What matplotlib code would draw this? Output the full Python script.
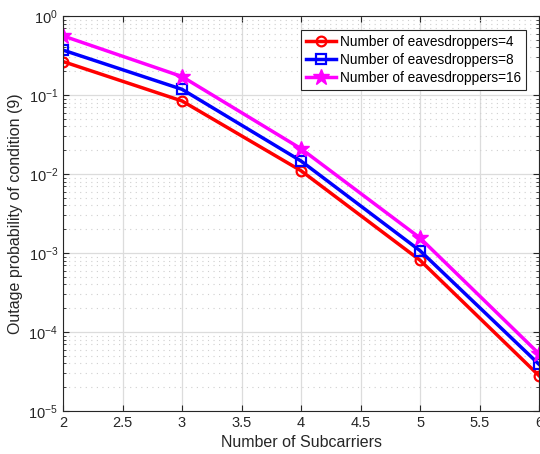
import matplotlib.pyplot as plt
from matplotlib.ticker import LogLocator, NullFormatter

plt.rcParams['font.family'] = ['Liberation Sans', 'DejaVu Sans']

# data
subcarriers = [2, 3, 4, 5, 6]
eve_4 = [0.265, 0.084, 0.011, 8.1e-4, 2.8e-5]
eve_8 = [0.37, 0.118, 0.0146, 1.07e-3, 3.9e-5]
eve_16 = [0.56, 0.171, 0.0209, 1.55e-3, 5.3e-5]
labels = ['Number of eavesdroppers=4', 'Number of eavesdroppers=8',
          'Number of eavesdroppers=16']

fig = plt.figure(figsize=(5.4, 4.54), dpi=100)
ax = fig.add_axes([0.1167, 0.0947, 0.8815, 0.8701])

ax.semilogy(subcarriers, eve_4, '-o', color='red', lw=2.5, ms=7,
            mfc='none', mew=1.6, label=labels[0])
ax.semilogy(subcarriers, eve_8, '-s', color='blue', lw=2.5, ms=6.5,
            mfc='none', mew=1.6, label=labels[1])
ax.semilogy(subcarriers, eve_16, '-*', color='magenta', lw=2.5, ms=12,
            label=labels[2])

ax.set_xlim(2, 6)
ax.set_ylim(1e-5, 1)
ax.set_xticks([2, 2.5, 3, 3.5, 4, 4.5, 5, 5.5, 6])
ax.set_xticklabels(['2', '2.5', '3', '3.5', '4', '4.5', '5', '5.5', '6'])
ax.yaxis.set_major_locator(LogLocator(base=10, numticks=10))
ax.yaxis.set_minor_locator(LogLocator(base=10, subs=range(2, 10), numticks=20))
ax.yaxis.set_minor_formatter(NullFormatter())

ax.grid(True, which='major', color='#dcdcdc', lw=0.9, ls='-')
ax.grid(True, which='minor', axis='y', color='#cfcfcf', lw=0.8, ls=(0, (1, 4)))
ax.set_axisbelow(True)

ax.tick_params(which='both', direction='in', top=True, right=True,
               labelsize=10.5, colors='#262626')
ax.tick_params(which='major', length=4)
ax.tick_params(which='minor', length=2)
for s in ax.spines.values():
    s.set_color('#262626')
    s.set_linewidth(0.8)

ax.set_xlabel('Number of Subcarriers', fontsize=11.5, color='#262626')
ax.set_ylabel('Outage probability of condition (9)', fontsize=11.5,
              color='#262626')

leg = ax.legend(loc='upper right', bbox_to_anchor=(0.973, 0.965),
                borderaxespad=0, fontsize=9.8,
                fancybox=False, framealpha=1, edgecolor='#262626',
                borderpad=0.35, handlelength=2.2, labelspacing=0.3,
                handletextpad=0.3)
leg.get_frame().set_linewidth(0.8)

fig.savefig('out.png', dpi=100)
